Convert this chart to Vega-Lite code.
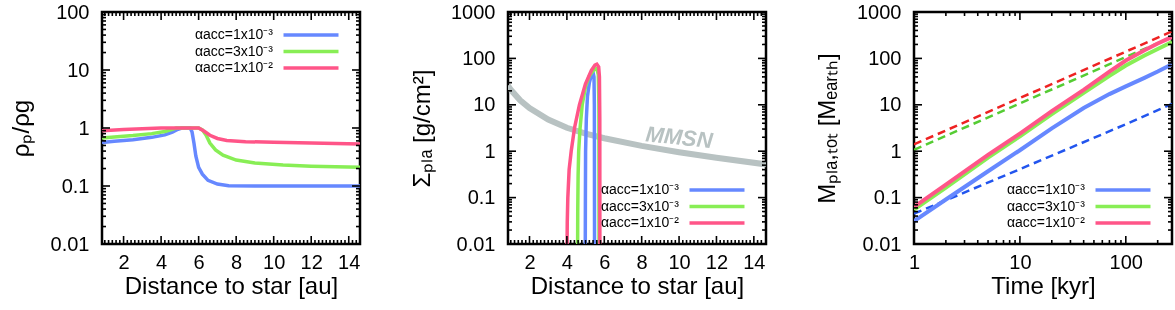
{
  "$schema": "https://vega.github.io/schema/vega-lite/v6.json",
  "padding": {"left": 7, "top": 0, "right": 3, "bottom": 0},
  "background": "white",
  "config": {
    "font": "Liberation Sans",
    "view": {"stroke": "black", "strokeWidth": 2.5},
    "axis": {"domain": false, "grid": false, "ticks": false, "labelFont": "Liberation Sans", "labelFontSize": 20, "labelColor": "black", "titleFont": "Liberation Sans", "titleFontSize": 24, "titleFontWeight": "normal", "titleColor": "black", "labelOverlap": false, "labelFlush": false, "labelBound": false, "format": "~g"},
    "legend": {"title": null, "padding": 0, "symbolType": "M-4,0L4,0", "symbolSize": 189, "symbolStrokeWidth": 3.5, "labelAlign": "right", "labelOffset": -47, "labelFontSize": 14, "labelFont": "Liberation Sans", "labelColor": "black", "rowPadding": 0.5},
    "rule": {"color": "#000000", "strokeWidth": 1.6, "opacity": 1}
  },
  "datasets": {
    "xlinMaj": [{"v":2},{"v":4},{"v":6},{"v":8},{"v":10},{"v":12},{"v":14}],
    "xlinMin": [{"v":1},{"v":1.2},{"v":1.4},{"v":1.6},{"v":1.8},{"v":2.2},{"v":2.4},{"v":2.6},{"v":2.8},{"v":3},{"v":3.2},{"v":3.4},{"v":3.6},{"v":3.8},{"v":4.2},{"v":4.4},{"v":4.6},{"v":4.8},{"v":5},{"v":5.2},{"v":5.4},{"v":5.6},{"v":5.8},{"v":6.2},{"v":6.4},{"v":6.6},{"v":6.8},{"v":7},{"v":7.2},{"v":7.4},{"v":7.6},{"v":7.8},{"v":8.2},{"v":8.4},{"v":8.6},{"v":8.8},{"v":9},{"v":9.2},{"v":9.4},{"v":9.6},{"v":9.8},{"v":10.2},{"v":10.4},{"v":10.6},{"v":10.8},{"v":11},{"v":11.2},{"v":11.4},{"v":11.6},{"v":11.8},{"v":12.2},{"v":12.4},{"v":12.6},{"v":12.8},{"v":13},{"v":13.2},{"v":13.4},{"v":13.6},{"v":13.8},{"v":14.2},{"v":14.4}],
    "xlogMaj": [{"v":1},{"v":10},{"v":100}],
    "xlogMin": [{"v":2},{"v":3},{"v":4},{"v":5},{"v":6},{"v":7},{"v":8},{"v":9},{"v":20},{"v":30},{"v":40},{"v":50},{"v":60},{"v":70},{"v":80},{"v":90},{"v":200}],
    "ylogMaj": [{"v":0.01},{"v":0.1},{"v":1},{"v":10},{"v":100},{"v":1000}],
    "ylogMin": [{"v":0.02},{"v":0.03},{"v":0.04},{"v":0.05},{"v":0.06},{"v":0.07},{"v":0.08},{"v":0.09},{"v":0.2},{"v":0.3},{"v":0.4},{"v":0.5},{"v":0.6},{"v":0.7},{"v":0.8},{"v":0.9},{"v":2},{"v":3},{"v":4},{"v":5},{"v":6},{"v":7},{"v":8},{"v":9},{"v":20},{"v":30},{"v":40},{"v":50},{"v":60},{"v":70},{"v":80},{"v":90},{"v":200},{"v":300},{"v":400},{"v":500},{"v":600},{"v":700},{"v":800},{"v":900}]
  },
  "spacing": 148,
  "bounds": "flush",
  "resolve": {"scale": {"color": "independent"}, "legend": {"color": "independent"}},
  "hconcat": [
    {
      "width": 258, "height": 232,
      "layer": [
        {
          "data": {"values": [
            {"s":"1e-3","x":0.85,"y":0.56},{"s":"1e-3","x":1.5,"y":0.59},{"s":"1e-3","x":2.5,"y":0.63},{"s":"1e-3","x":3.5,"y":0.69},{"s":"1e-3","x":4.2,"y":0.76},{"s":"1e-3","x":4.6,"y":0.85},{"s":"1e-3","x":4.9,"y":0.95},{"s":"1e-3","x":5.1,"y":1.0},{"s":"1e-3","x":5.55,"y":1.0},{"s":"1e-3","x":5.65,"y":0.85},{"s":"1e-3","x":5.75,"y":0.55},{"s":"1e-3","x":5.85,"y":0.33},{"s":"1e-3","x":6.0,"y":0.21},{"s":"1e-3","x":6.2,"y":0.16},{"s":"1e-3","x":6.5,"y":0.125},{"s":"1e-3","x":7.0,"y":0.108},{"s":"1e-3","x":7.6,"y":0.101},{"s":"1e-3","x":9.0,"y":0.1},{"s":"1e-3","x":14.6,"y":0.1},
            {"s":"3e-3","x":0.85,"y":0.67},{"s":"3e-3","x":1.5,"y":0.7},{"s":"3e-3","x":2.5,"y":0.74},{"s":"3e-3","x":3.5,"y":0.8},{"s":"3e-3","x":4.2,"y":0.87},{"s":"3e-3","x":4.6,"y":0.95},{"s":"3e-3","x":4.8,"y":1.0},{"s":"3e-3","x":6.0,"y":1.0},{"s":"3e-3","x":6.2,"y":0.93},{"s":"3e-3","x":6.4,"y":0.75},{"s":"3e-3","x":6.6,"y":0.55},{"s":"3e-3","x":6.9,"y":0.42},{"s":"3e-3","x":7.3,"y":0.34},{"s":"3e-3","x":8.0,"y":0.28},{"s":"3e-3","x":9.0,"y":0.25},{"s":"3e-3","x":10.5,"y":0.23},{"s":"3e-3","x":12.0,"y":0.22},{"s":"3e-3","x":14.6,"y":0.21},
            {"s":"1e-2","x":0.85,"y":0.9},{"s":"1e-2","x":2.0,"y":0.94},{"s":"1e-2","x":3.0,"y":0.97},{"s":"1e-2","x":4.0,"y":1.0},{"s":"1e-2","x":6.0,"y":1.0},{"s":"1e-2","x":6.3,"y":0.88},{"s":"1e-2","x":6.6,"y":0.75},{"s":"1e-2","x":7.0,"y":0.66},{"s":"1e-2","x":7.5,"y":0.61},{"s":"1e-2","x":8.5,"y":0.58},{"s":"1e-2","x":10.0,"y":0.57},{"s":"1e-2","x":12.0,"y":0.55},{"s":"1e-2","x":14.6,"y":0.53}
          ]},
          "mark": {"type": "line", "strokeWidth": 3.5, "clip": true, "blend": "multiply"},
          "encoding": {
            "x": {"field": "x", "type": "quantitative", "scale": {"domain": [0.85, 14.6], "nice": false, "zero": false},
                  "axis": {"orient": "bottom", "title": "Distance to star [au]", "values": [2,4,6,8,10,12,14], "labelPadding": 8, "titlePadding": 2}},
            "y": {"field": "y", "type": "quantitative", "scale": {"type": "log", "domain": [0.01, 100], "nice": false},
                  "axis": {"orient": "left", "title": "ρₚ/ρg", "values": [0.01,0.1,1,10,100], "labelPadding": 13, "titlePadding": 17}},
            "color": {"field": "s", "type": "nominal", "scale": {"domain": ["1e-3", "3e-3", "1e-2"], "range": ["#6688ff", "#88ee55", "#ff5588"]},
                      "legend": {"orient": "top-right", "offset": 14, "labelExpr": "'αacc=' + (datum.label == '1e-3' ? '1x10⁻³' : datum.label == '3e-3' ? '3x10⁻³' : '1x10⁻²')"}}
          }
        },
        {"data": {"name": "xlinMaj"}, "mark": {"type": "rule", "y2Offset": -8}, "encoding": {"x": {"field": "v", "type": "quantitative", "axis": null}, "y": {"datum": 0.01, "type": "quantitative", "axis": null}, "y2": {"datum": 0.01}}},
        {"data": {"name": "xlinMin"}, "mark": {"type": "rule", "y2Offset": -4}, "encoding": {"x": {"field": "v", "type": "quantitative", "axis": null}, "y": {"datum": 0.01, "type": "quantitative", "axis": null}, "y2": {"datum": 0.01}}},
        {"data": {"name": "xlinMaj"}, "mark": {"type": "rule", "y2Offset": 8}, "encoding": {"x": {"field": "v", "type": "quantitative", "axis": null}, "y": {"datum": 100, "type": "quantitative", "axis": null}, "y2": {"datum": 100}}},
        {"data": {"name": "xlinMin"}, "mark": {"type": "rule", "y2Offset": 4}, "encoding": {"x": {"field": "v", "type": "quantitative", "axis": null}, "y": {"datum": 100, "type": "quantitative", "axis": null}, "y2": {"datum": 100}}},
        {"data": {"name": "ylogMaj"}, "transform": [{"filter": "datum.v <= 100"}], "mark": {"type": "rule", "x2Offset": 8}, "encoding": {"y": {"field": "v", "type": "quantitative", "axis": null}, "x": {"datum": 0.85, "type": "quantitative", "axis": null}, "x2": {"datum": 0.85}}},
        {"data": {"name": "ylogMin"}, "transform": [{"filter": "datum.v <= 100"}], "mark": {"type": "rule", "x2Offset": 4}, "encoding": {"y": {"field": "v", "type": "quantitative", "axis": null}, "x": {"datum": 0.85, "type": "quantitative", "axis": null}, "x2": {"datum": 0.85}}},
        {"data": {"name": "ylogMaj"}, "transform": [{"filter": "datum.v <= 100"}], "mark": {"type": "rule", "x2Offset": -8}, "encoding": {"y": {"field": "v", "type": "quantitative", "axis": null}, "x": {"datum": 14.6, "type": "quantitative", "axis": null}, "x2": {"datum": 14.6}}},
        {"data": {"name": "ylogMin"}, "transform": [{"filter": "datum.v <= 100"}], "mark": {"type": "rule", "x2Offset": -4}, "encoding": {"y": {"field": "v", "type": "quantitative", "axis": null}, "x": {"datum": 14.6, "type": "quantitative", "axis": null}, "x2": {"datum": 14.6}}}
      ],
      "resolve": {"axis": {"x": "independent", "y": "independent"}}
    },
    {
      "width": 258, "height": 232,
      "layer": [
        {
          "data": {"values": [
            {"x":0.85,"y":26},{"x":1,"y":21},{"x":1.5,"y":12.5},{"x":2,"y":8.5},{"x":3,"y":4.8},{"x":4,"y":3.2},{"x":5,"y":2.4},{"x":6,"y":1.9},{"x":8,"y":1.3},{"x":10,"y":0.95},{"x":12,"y":0.72},{"x":14.65,"y":0.52}
          ]},
          "mark": {"type": "line", "strokeWidth": 6, "color": "#b8c2c2", "clip": true},
          "encoding": {
            "x": {"field": "x", "type": "quantitative", "scale": {"domain": [0.85, 14.65], "nice": false, "zero": false},
                  "axis": {"orient": "bottom", "title": "Distance to star [au]", "values": [2,4,6,8,10,12,14], "labelPadding": 8, "titlePadding": 2}},
            "y": {"field": "y", "type": "quantitative", "scale": {"type": "log", "domain": [0.01, 1000], "nice": false},
                  "axis": {"orient": "left", "title": "Σₚₗₐ [g/cm²]", "values": [0.01,0.1,1,10,100,1000], "labelPadding": 13, "titlePadding": 16}}
          }
        },
        {
          "data": {"values": [{"x": 10.0, "y": 1.95, "t": "MMSN"}]},
          "mark": {"type": "text", "font": "Liberation Sans", "fontWeight": "bold", "fontStyle": "italic", "fontSize": 22, "color": "#b8c2c2", "angle": 6},
          "encoding": {
            "x": {"field": "x", "type": "quantitative", "axis": null},
            "y": {"field": "y", "type": "quantitative", "axis": null},
            "text": {"field": "t"}
          }
        },
        {
          "data": {"values": [
            {"s":"1e-3","x":4.98,"y":0.003},{"s":"1e-3","x":4.99,"y":0.1},{"s":"1e-3","x":5.0,"y":1},{"s":"1e-3","x":5.04,"y":5},{"s":"1e-3","x":5.1,"y":15},{"s":"1e-3","x":5.2,"y":30},{"s":"1e-3","x":5.32,"y":45},{"s":"1e-3","x":5.4,"y":50},{"s":"1e-3","x":5.45,"y":40},{"s":"1e-3","x":5.47,"y":10},{"s":"1e-3","x":5.48,"y":0.003},
            {"s":"3e-3","x":4.57,"y":0.003},{"s":"3e-3","x":4.58,"y":0.05},{"s":"3e-3","x":4.6,"y":0.3},{"s":"3e-3","x":4.63,"y":1},{"s":"3e-3","x":4.7,"y":3},{"s":"3e-3","x":4.82,"y":10},{"s":"3e-3","x":5.0,"y":25},{"s":"3e-3","x":5.2,"y":42},{"s":"3e-3","x":5.45,"y":58},{"s":"3e-3","x":5.6,"y":60},{"s":"3e-3","x":5.68,"y":45},{"s":"3e-3","x":5.71,"y":10},{"s":"3e-3","x":5.72,"y":0.003},
            {"s":"1e-2","x":4.0,"y":0.003},{"s":"1e-2","x":4.02,"y":0.03},{"s":"1e-2","x":4.05,"y":0.1},{"s":"1e-2","x":4.12,"y":0.4},{"s":"1e-2","x":4.23,"y":1},{"s":"1e-2","x":4.41,"y":3.2},{"s":"1e-2","x":4.67,"y":10},{"s":"1e-2","x":4.99,"y":28},{"s":"1e-2","x":5.31,"y":55},{"s":"1e-2","x":5.5,"y":72},{"s":"1e-2","x":5.6,"y":75},{"s":"1e-2","x":5.7,"y":66},{"s":"1e-2","x":5.74,"y":40},{"s":"1e-2","x":5.76,"y":5},{"s":"1e-2","x":5.765,"y":0.003}
          ]},
          "mark": {"type": "line", "strokeWidth": 3.5, "clip": true, "blend": "multiply"},
          "encoding": {
            "x": {"field": "x", "type": "quantitative", "axis": null},
            "y": {"field": "y", "type": "quantitative", "axis": null},
            "color": {"field": "s", "type": "nominal", "scale": {"domain": ["1e-3", "3e-3", "1e-2"], "range": ["#6688ff", "#88ee55", "#ff5588"]},
                      "legend": {"orient": "bottom-right", "offset": 14, "labelExpr": "'αacc=' + (datum.label == '1e-3' ? '1x10⁻³' : datum.label == '3e-3' ? '3x10⁻³' : '1x10⁻²')"}}
          }
        },
        {"data": {"name": "xlinMaj"}, "mark": {"type": "rule", "y2Offset": -8}, "encoding": {"x": {"field": "v", "type": "quantitative", "axis": null}, "y": {"datum": 0.01, "type": "quantitative", "axis": null}, "y2": {"datum": 0.01}}},
        {"data": {"name": "xlinMin"}, "mark": {"type": "rule", "y2Offset": -4}, "encoding": {"x": {"field": "v", "type": "quantitative", "axis": null}, "y": {"datum": 0.01, "type": "quantitative", "axis": null}, "y2": {"datum": 0.01}}},
        {"data": {"name": "xlinMaj"}, "mark": {"type": "rule", "y2Offset": 8}, "encoding": {"x": {"field": "v", "type": "quantitative", "axis": null}, "y": {"datum": 1000, "type": "quantitative", "axis": null}, "y2": {"datum": 1000}}},
        {"data": {"name": "xlinMin"}, "mark": {"type": "rule", "y2Offset": 4}, "encoding": {"x": {"field": "v", "type": "quantitative", "axis": null}, "y": {"datum": 1000, "type": "quantitative", "axis": null}, "y2": {"datum": 1000}}},
        {"data": {"name": "ylogMaj"}, "mark": {"type": "rule", "x2Offset": 8}, "encoding": {"y": {"field": "v", "type": "quantitative", "axis": null}, "x": {"datum": 0.85, "type": "quantitative", "axis": null}, "x2": {"datum": 0.85}}},
        {"data": {"name": "ylogMin"}, "mark": {"type": "rule", "x2Offset": 4}, "encoding": {"y": {"field": "v", "type": "quantitative", "axis": null}, "x": {"datum": 0.85, "type": "quantitative", "axis": null}, "x2": {"datum": 0.85}}},
        {"data": {"name": "ylogMaj"}, "mark": {"type": "rule", "x2Offset": -8}, "encoding": {"y": {"field": "v", "type": "quantitative", "axis": null}, "x": {"datum": 14.65, "type": "quantitative", "axis": null}, "x2": {"datum": 14.65}}},
        {"data": {"name": "ylogMin"}, "mark": {"type": "rule", "x2Offset": -4}, "encoding": {"y": {"field": "v", "type": "quantitative", "axis": null}, "x": {"datum": 14.65, "type": "quantitative", "axis": null}, "x2": {"datum": 14.65}}}
      ],
      "resolve": {"axis": {"x": "independent", "y": "independent"}}
    },
    {
      "width": 258, "height": 232,
      "layer": [
        {
          "data": {"values": [
            {"s":"1e-3","x":1,"y":0.045},{"s":"1e-3","x":10,"y":0.41},{"s":"1e-3","x":100,"y":3.8},{"s":"1e-3","x":273,"y":10.5},
            {"s":"3e-3","x":1,"y":1.07},{"s":"3e-3","x":10,"y":10.7},{"s":"3e-3","x":100,"y":107},{"s":"3e-3","x":273,"y":290},
            {"s":"1e-2","x":1,"y":1.4},{"s":"1e-2","x":10,"y":14},{"s":"1e-2","x":100,"y":140},{"s":"1e-2","x":273,"y":382}
          ]},
          "mark": {"type": "line", "strokeWidth": 2.5, "strokeDash": [8, 5], "clip": true},
          "encoding": {
            "x": {"field": "x", "type": "quantitative", "scale": {"type": "log", "domain": [1, 273], "nice": false},
                  "axis": {"orient": "bottom", "title": "Time [kyr]", "values": [1,10,100], "labelPadding": 8, "titlePadding": 2}},
            "y": {"field": "y", "type": "quantitative", "scale": {"type": "log", "domain": [0.01, 1000], "nice": false},
                  "axis": {"orient": "left", "title": "Mₚₗₐ,ₜₒₜ [Mₑₐᵣₜₕ]", "values": [0.01,0.1,1,10,100,1000], "labelPadding": 13, "titlePadding": 17}},
            "color": {"field": "s", "type": "nominal", "scale": {"domain": ["1e-3", "3e-3", "1e-2"], "range": ["#2255ee", "#55cc33", "#ee2222"]}, "legend": null}
          }
        },
        {
          "data": {"values": [
            {"s":"1e-3","x":1,"y":0.031},{"s":"1e-3","x":2,"y":0.091},{"s":"1e-3","x":5,"y":0.37},{"s":"1e-3","x":10,"y":1.05},{"s":"1e-3","x":20,"y":3.1},{"s":"1e-3","x":40,"y":8.5},{"s":"1e-3","x":70,"y":17},{"s":"1e-3","x":100,"y":25},{"s":"1e-3","x":150,"y":38},{"s":"1e-3","x":200,"y":52},{"s":"1e-3","x":273,"y":75},
            {"s":"3e-3","x":1,"y":0.055},{"s":"3e-3","x":2,"y":0.165},{"s":"3e-3","x":5,"y":0.73},{"s":"3e-3","x":10,"y":2.1},{"s":"3e-3","x":20,"y":6.3},{"s":"3e-3","x":40,"y":18},{"s":"3e-3","x":70,"y":42},{"s":"3e-3","x":100,"y":70},{"s":"3e-3","x":150,"y":115},{"s":"3e-3","x":200,"y":160},{"s":"3e-3","x":273,"y":225},
            {"s":"1e-2","x":1,"y":0.063},{"s":"1e-2","x":2,"y":0.19},{"s":"1e-2","x":5,"y":0.83},{"s":"1e-2","x":10,"y":2.4},{"s":"1e-2","x":20,"y":7.3},{"s":"1e-2","x":40,"y":21},{"s":"1e-2","x":70,"y":52},{"s":"1e-2","x":100,"y":90},{"s":"1e-2","x":150,"y":150},{"s":"1e-2","x":200,"y":210},{"s":"1e-2","x":273,"y":290}
          ]},
          "mark": {"type": "line", "strokeWidth": 4, "clip": true, "blend": "multiply"},
          "encoding": {
            "x": {"field": "x", "type": "quantitative", "axis": null},
            "y": {"field": "y", "type": "quantitative", "axis": null},
            "color": {"field": "s", "type": "nominal", "scale": {"domain": ["1e-3", "3e-3", "1e-2"], "range": ["#6688ff", "#88ee55", "#ff5588"]},
                      "legend": {"orient": "bottom-right", "offset": 14, "labelExpr": "'αacc=' + (datum.label == '1e-3' ? '1x10⁻³' : datum.label == '3e-3' ? '3x10⁻³' : '1x10⁻²')"}}
          }
        },
        {"data": {"name": "xlogMaj"}, "mark": {"type": "rule", "y2Offset": -8}, "encoding": {"x": {"field": "v", "type": "quantitative", "axis": null}, "y": {"datum": 0.01, "type": "quantitative", "axis": null}, "y2": {"datum": 0.01}}},
        {"data": {"name": "xlogMin"}, "mark": {"type": "rule", "y2Offset": -4}, "encoding": {"x": {"field": "v", "type": "quantitative", "axis": null}, "y": {"datum": 0.01, "type": "quantitative", "axis": null}, "y2": {"datum": 0.01}}},
        {"data": {"name": "xlogMaj"}, "mark": {"type": "rule", "y2Offset": 8}, "encoding": {"x": {"field": "v", "type": "quantitative", "axis": null}, "y": {"datum": 1000, "type": "quantitative", "axis": null}, "y2": {"datum": 1000}}},
        {"data": {"name": "xlogMin"}, "mark": {"type": "rule", "y2Offset": 4}, "encoding": {"x": {"field": "v", "type": "quantitative", "axis": null}, "y": {"datum": 1000, "type": "quantitative", "axis": null}, "y2": {"datum": 1000}}},
        {"data": {"name": "ylogMaj"}, "mark": {"type": "rule", "x2Offset": 8}, "encoding": {"y": {"field": "v", "type": "quantitative", "axis": null}, "x": {"datum": 1, "type": "quantitative", "axis": null}, "x2": {"datum": 1}}},
        {"data": {"name": "ylogMin"}, "mark": {"type": "rule", "x2Offset": 4}, "encoding": {"y": {"field": "v", "type": "quantitative", "axis": null}, "x": {"datum": 1, "type": "quantitative", "axis": null}, "x2": {"datum": 1}}},
        {"data": {"name": "ylogMaj"}, "mark": {"type": "rule", "x2Offset": -8}, "encoding": {"y": {"field": "v", "type": "quantitative", "axis": null}, "x": {"datum": 273, "type": "quantitative", "axis": null}, "x2": {"datum": 273}}},
        {"data": {"name": "ylogMin"}, "mark": {"type": "rule", "x2Offset": -4}, "encoding": {"y": {"field": "v", "type": "quantitative", "axis": null}, "x": {"datum": 273, "type": "quantitative", "axis": null}, "x2": {"datum": 273}}}
      ],
      "resolve": {"scale": {"color": "independent"}, "axis": {"x": "independent", "y": "independent"}}
    }
  ]
}
